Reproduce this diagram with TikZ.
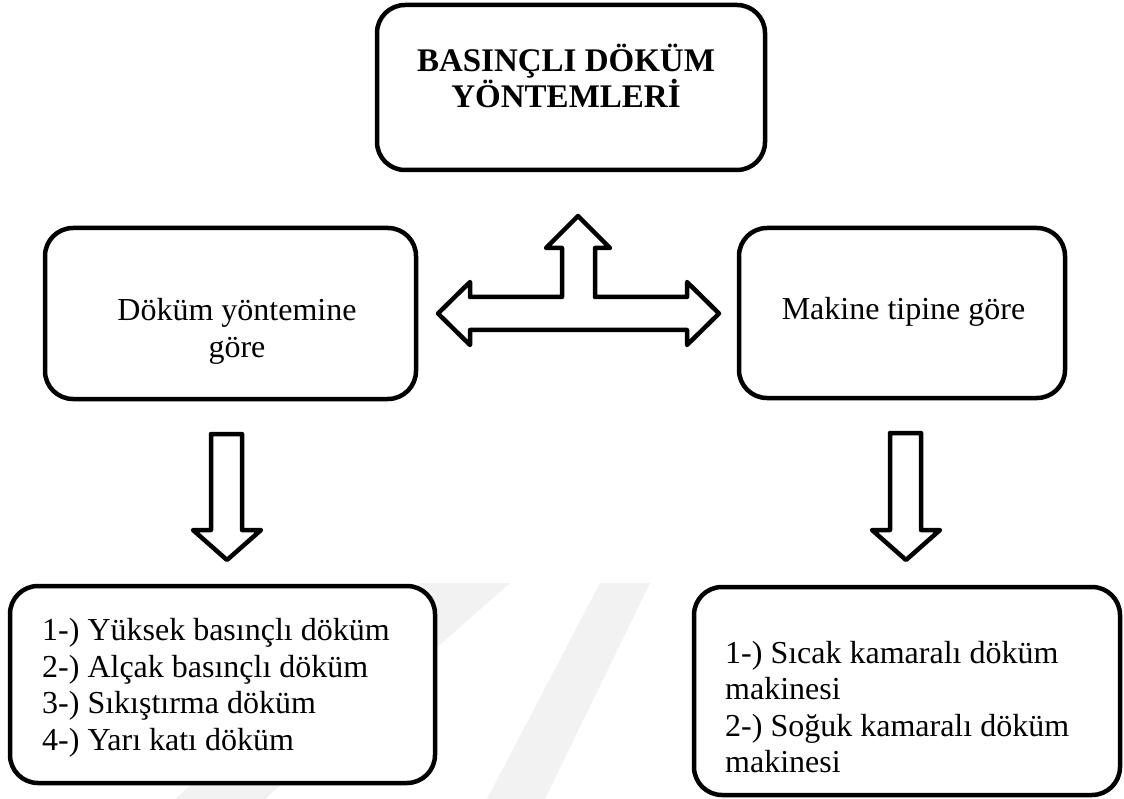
\documentclass[tikz,border=0pt]{standalone}
\usepackage{fontspec}
\setmainfont{Liberation Serif}
\usepackage{tikz}
\usetikzlibrary{positioning}

\begin{document}
\begin{tikzpicture}[x=1pt,y=-1pt,
        kutu/.style={draw, line width=4.5pt, rounded corners=28pt, fill=white, inner sep=0pt},
        yazi/.style={font=\fontsize{32}{36.7}\selectfont, inner sep=0pt},
        okblok/.style={draw, line width=4.5pt, fill=white, line join=round},
        filigran/.style={fill=black!5, draw=none}]
        \useasboundingbox (0,0) rectangle (1124,799);

        \fill[filigran] (420,583) -- (510,583) -- (265,799) -- (175,799) -- cycle;
        \fill[filigran] (600,583) -- (650,583) -- (545,799) -- (487,799) -- cycle;

        \node[kutu, minimum width=388pt, minimum height=165pt] (ana) at (571,87.5) {};
        \node[kutu, minimum width=371pt, minimum height=171pt] (yontem) at (230.5,313.5) {};
        \node[kutu, minimum width=326pt, minimum height=170pt] (makine) at (902,313) {};
        \node[kutu, minimum width=425pt, minimum height=197pt] (yontemliste) at (222.5,684.5) {};
        \node[kutu, minimum width=426pt, minimum height=208pt] (makineliste) at (907,691) {};

        \node[yazi, font=\fontsize{33}{33}\selectfont\bfseries, align=center] (anayazi) at (566,76) {BASINÇLI DÖKÜM\\YÖNTEMLERİ};
        \node[yazi, align=center] (yontemyazi) at (237,331.5) {Döküm yöntemine\\göre};
        \node[yazi, anchor=base] (makineyazi) at (903.5,320) {Makine tipine göre};
        \node[yazi, align=left, anchor=north west] (yontemmaddeler) at (42,618) {1-) Yüksek basınçlı döküm\\2-) Alçak basınçlı döküm\\3-) Sıkıştırma döküm\\4-) Yarı katı döküm};
        \node[yazi, font=\fontsize{32}{36.3}\selectfont, align=left, anchor=north west] (makinemaddeler) at (725,641) {1-) Sıcak kamaralı döküm\\makinesi\\2-) Soğuk kamaralı döküm\\makinesi};

        \draw[okblok] (438,313.5) -- (470,282) -- (470,297) -- (562,297) -- (562,248) -- (546,248) -- (578,216)
                -- (610,248) -- (595,248) -- (595,297) -- (687,297) -- (687,282) -- (719,313.5)
                -- (687,345) -- (687,330) -- (470,330) -- (470,345) -- cycle;

        \draw[okblok] (211,434) -- (242,434) -- (242,530) -- (261,530) -- (227,560) -- (193,530) -- (211,530) -- cycle;
        \draw[okblok] (890,433) -- (921,433) -- (921,530) -- (940,530) -- (906,560) -- (872,530) -- (890,530) -- cycle;
    \end{tikzpicture}
\end{document}
